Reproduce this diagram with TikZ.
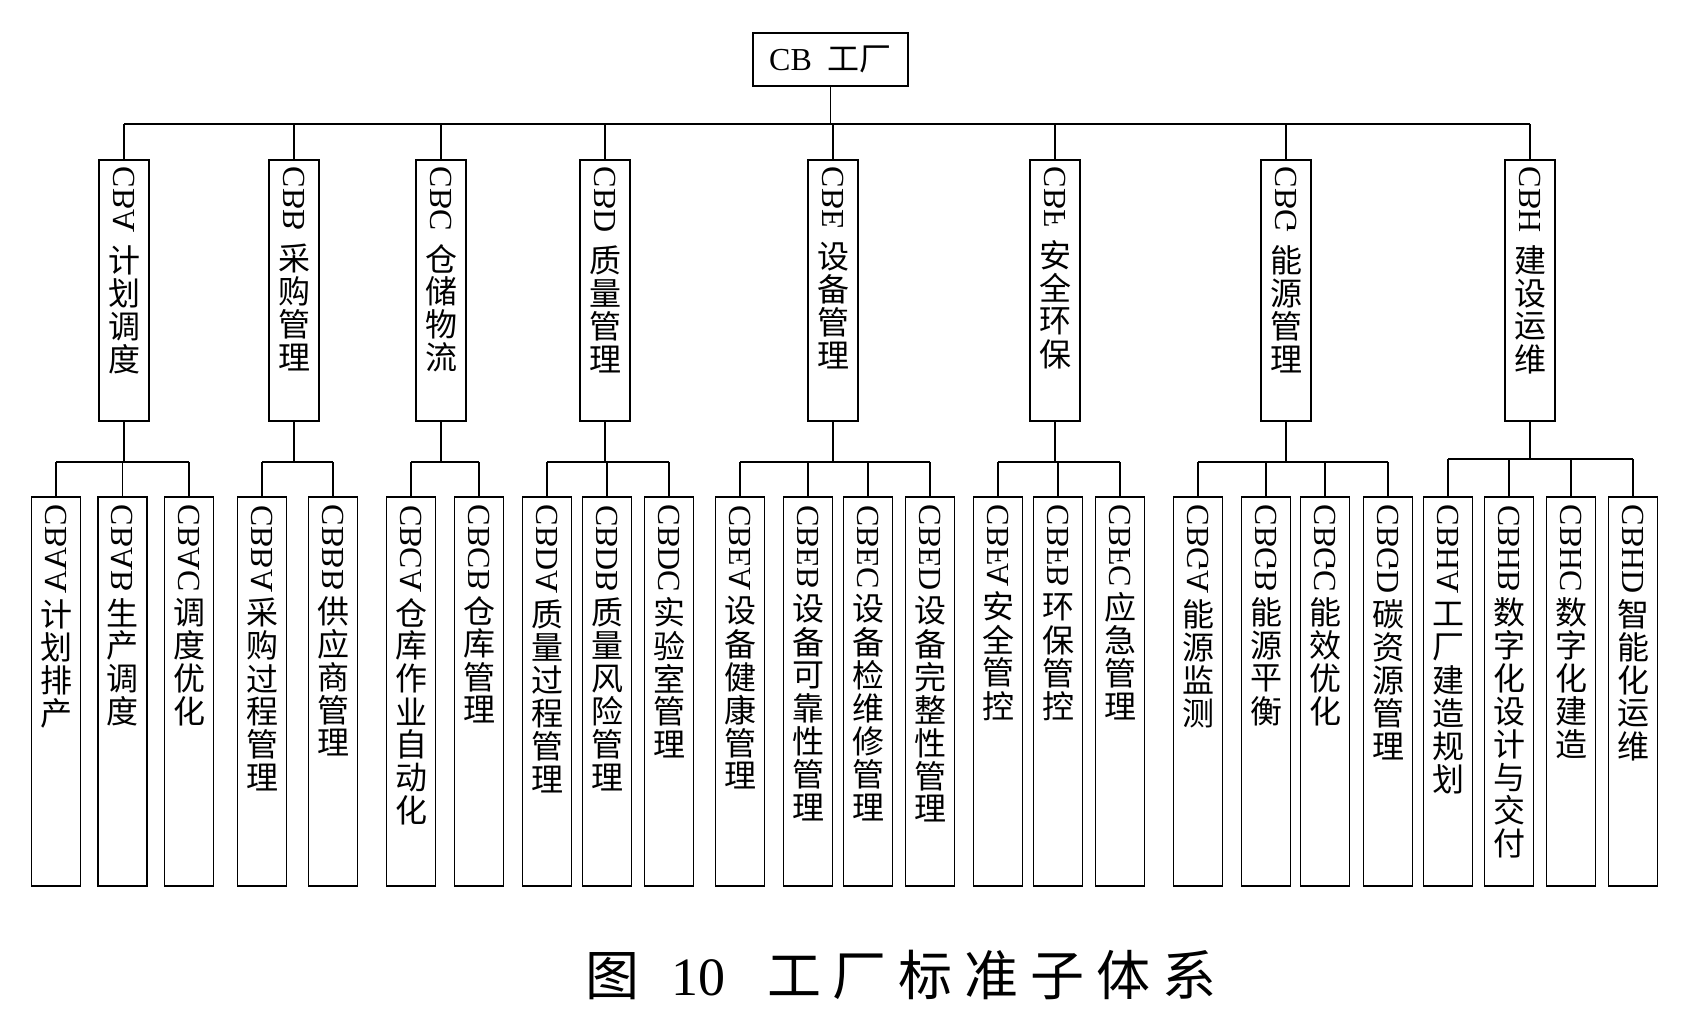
\documentclass[tikz,border=0pt]{standalone}
\usepackage{fontspec}
\setmainfont{Liberation Serif}
\newfontfamily\cjkf{Noto Sans CJK SC}
\usepackage{graphicx}
\makeatletter
\newcommand\vlab[3]{% #1 gap, #2 latin code, #3 cjk chars
  \vbox{\offinterlineskip
    \hbox to 20pt{\hss\reflectbox{\rotatebox{-90}{#2}}\hss}%
    \kern#1\relax
    \@tfor\ch:=#3\do{\hbox to 20pt{\hss\vbox to 16.5pt{\vss\hbox{\cjkf\ch}\vss}\hss}}}}
\makeatother
\tikzset{
  every node/.style={inner sep=0pt, outer sep=0pt},
  lbl/.style={font=\fontsize{16}{16.5}\selectfont},
  bxii/.style={draw, line width=0.75pt, minimum width=25pt, minimum height=130.5pt},
  bxiii/.style={draw, line width=0.75pt, minimum width=24.5pt, minimum height=194.5pt},
  rootbox/.style={draw, line width=0.75pt, minimum width=77.5pt, minimum height=26.5pt},
  ln/.style={line width=0.75pt}
}
\newcommand\Lii[3]{%
  \node[bxii] (#1) at (#2,290.5) {};
  \node[lbl, anchor=north] (t#1) at ([yshift=-3.5pt]#1.north) {\vlab{5.5pt}{#1}{#3}};}
\newcommand\Liii[3]{%
  \node[bxiii] (#1) at (#2,691.5) {};
  \node[lbl, anchor=north] (t#1) at ([yshift=-4pt]#1.north) {\vlab{2pt}{#1}{#3}};}
\begin{document}
\begin{tikzpicture}[x=0.5pt, y=-0.5pt]
\useasboundingbox (0,0) rectangle (1693,1015);
% root
\node[rootbox, lbl] (root) at (830.5,59.5) {CB\hspace{8pt}{\cjkf 工厂}};
% level 2
\Lii{CBA}{124}{计划调度}
\Lii{CBB}{294}{采购管理}
\Lii{CBC}{441}{仓储物流}
\Lii{CBD}{605}{质量管理}
\Lii{CBE}{833}{设备管理}
\Lii{CBF}{1055}{安全环保}
\Lii{CBG}{1286}{能源管理}
\Lii{CBH}{1530}{建设运维}
% level 3
\Liii{CBAA}{56}{计划排产}
\Liii{CBAB}{122.5}{生产调度}
\Liii{CBAC}{189}{调度优化}
\Liii{CBBA}{262}{采购过程管理}
\Liii{CBBB}{333}{供应商管理}
\Liii{CBCA}{411}{仓库作业自动化}
\Liii{CBCB}{479}{仓库管理}
\Liii{CBDA}{547}{质量过程管理}
\Liii{CBDB}{607}{质量风险管理}
\Liii{CBDC}{669}{实验室管理}
\Liii{CBEA}{740}{设备健康管理}
\Liii{CBEB}{808}{设备可靠性管理}
\Liii{CBEC}{868}{设备检维修管理}
\Liii{CBED}{930}{设备完整性管理}
\Liii{CBFA}{998}{安全管控}
\Liii{CBFB}{1058}{环保管控}
\Liii{CBFC}{1120}{应急管理}
\Liii{CBGA}{1198}{能源监测}
\Liii{CBGB}{1266}{能源平衡}
\Liii{CBGC}{1325}{能效优化}
\Liii{CBGD}{1388}{碳资源管理}
\Liii{CBHA}{1448}{工厂建造规划}
\Liii{CBHB}{1509}{数字化设计与交付}
\Liii{CBHC}{1571}{数字化建造}
\Liii{CBHD}{1633}{智能化运维}
% connectors level 1 -> 2
\coordinate (bus) at (0,124);
\draw[ln] (root.south) -- (root.south |- bus);
\draw[ln] (CBA.north |- bus) -- (CBH.north |- bus);
\foreach \n in {CBA,CBB,CBC,CBD,CBE,CBF,CBG,CBH}
  \draw[ln] (\n.north) -- (\n.north |- bus);
% connectors level 2 -> 3
\coordinate (sb) at (0,462);
\coordinate (sbh) at (0,459);
\foreach \p/\f/\l/\cs/\b in {
  CBA/CBAA/CBAC/{CBAA,CBAB,CBAC}/sb,
  CBB/CBBA/CBBB/{CBBA,CBBB}/sb,
  CBC/CBCA/CBCB/{CBCA,CBCB}/sb,
  CBD/CBDA/CBDC/{CBDA,CBDB,CBDC}/sb,
  CBE/CBEA/CBED/{CBEA,CBEB,CBEC,CBED}/sb,
  CBF/CBFA/CBFC/{CBFA,CBFB,CBFC}/sb,
  CBG/CBGA/CBGD/{CBGA,CBGB,CBGC,CBGD}/sb,
  CBH/CBHA/CBHD/{CBHA,CBHB,CBHC,CBHD}/sbh} {
  \draw[ln] (\p.south) -- (\p.south |- \b);
  \draw[ln] (\f.north |- \b) -- (\l.north |- \b);
  \foreach \c in \cs { \draw[ln] (\c.north) -- (\c.north |- \b); }
}
% caption
\node[font=\fontsize{27}{30}\selectfont] (cap) at (901,975)
  {{\cjkf 图}\hspace{16pt}10\hspace{21pt}{\cjkf 工\hspace{6pt}厂\hspace{6pt}标\hspace{6pt}准\hspace{6pt}子\hspace{6pt}体\hspace{6pt}系}};
\end{tikzpicture}
\end{document}
